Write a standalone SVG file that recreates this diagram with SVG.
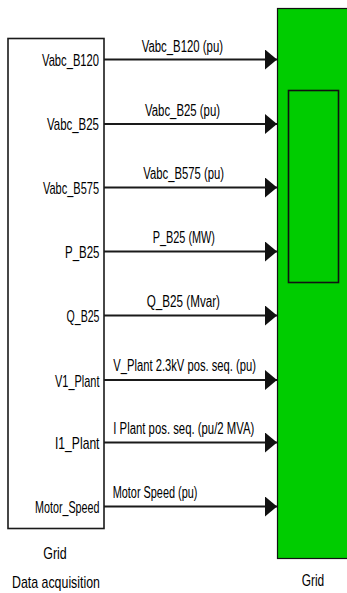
<svg xmlns="http://www.w3.org/2000/svg" width="347" height="593" viewBox="0 0 347 593">
<defs>
<style>
.t{font-family:"Liberation Sans",Arial,sans-serif;font-size:16px;fill:#000;}
.p{text-anchor:end;font-size:17px;}
.b{font-size:17px;}
.ln{stroke:#1a1a1a;stroke-width:2;fill:none;}
.blk{fill:#fff;stroke:#1a1a1a;stroke-width:1.6;}
.grn{fill:#00cc00;stroke:#111;stroke-width:1.2;}
.inner{fill:none;stroke:#111;stroke-width:1.6;}
</style>
<marker id="ah" markerWidth="12" markerHeight="20" refX="12" refY="10" orient="auto" markerUnits="userSpaceOnUse">
<path d="M0,0 L12,10 L0,20 Z" fill="#111"/>
</marker>
</defs>
<rect width="347" height="593" fill="#fff"/>

<g id="data-acquisition">
<rect class="blk" x="8" y="38.5" width="96" height="490"/>
<text class="t p" x="99" y="66" textLength="57" lengthAdjust="spacingAndGlyphs">Vabc_B120</text>
<text class="t p" x="99" y="130" textLength="52" lengthAdjust="spacingAndGlyphs">Vabc_B25</text>
<text class="t p" x="99" y="194" textLength="56" lengthAdjust="spacingAndGlyphs">Vabc_B575</text>
<text class="t p" x="99.5" y="258" textLength="34.5" lengthAdjust="spacingAndGlyphs">P_B25</text>
<text class="t p" x="99.5" y="322" textLength="33" lengthAdjust="spacingAndGlyphs">Q_B25</text>
<text class="t p" x="99.5" y="386.5" textLength="44.5" lengthAdjust="spacingAndGlyphs">V1_Plant</text>
<text class="t p" x="99.5" y="449" textLength="44.5" lengthAdjust="spacingAndGlyphs">I1_Plant</text>
<text class="t p" x="99.5" y="513" textLength="64.5" lengthAdjust="spacingAndGlyphs">Motor_Speed</text>
<text class="t b" x="55" y="559" text-anchor="middle" textLength="23.5" lengthAdjust="spacingAndGlyphs">Grid</text>
<text class="t b" x="56" y="588" text-anchor="middle" textLength="88" lengthAdjust="spacingAndGlyphs">Data acquisition</text>
</g>

<g id="grid">
<rect class="grn" x="277.5" y="8.5" width="72" height="550"/>
<rect class="inner" x="288.5" y="90.5" width="50" height="192"/>
<text class="t b" x="313" y="586" text-anchor="middle" textLength="22.5" lengthAdjust="spacingAndGlyphs">Grid</text>
</g>

<g id="connectors">
<line class="ln" x1="104" y1="59.5" x2="277" y2="59.5" marker-end="url(#ah)"/>
<line class="ln" x1="104" y1="124" x2="277" y2="124" marker-end="url(#ah)"/>
<line class="ln" x1="104" y1="187.5" x2="277" y2="187.5" marker-end="url(#ah)"/>
<line class="ln" x1="104" y1="251.5" x2="277" y2="251.5" marker-end="url(#ah)"/>
<line class="ln" x1="104" y1="315.5" x2="277" y2="315.5" marker-end="url(#ah)"/>
<line class="ln" x1="104" y1="380" x2="277" y2="380" marker-end="url(#ah)"/>
<line class="ln" x1="104" y1="442.5" x2="277" y2="442.5" marker-end="url(#ah)"/>
<line class="ln" x1="104" y1="506.5" x2="277" y2="506.5" marker-end="url(#ah)"/>
<text class="t" x="141.7" y="51.5" textLength="81.3" lengthAdjust="spacingAndGlyphs">Vabc_B120 (pu)</text>
<text class="t" x="145" y="115.5" textLength="75" lengthAdjust="spacingAndGlyphs">Vabc_B25 (pu)</text>
<text class="t" x="143.3" y="179" textLength="80.7" lengthAdjust="spacingAndGlyphs">Vabc_B575 (pu)</text>
<text class="t" x="152.7" y="243" textLength="62.3" lengthAdjust="spacingAndGlyphs">P_B25 (MW)</text>
<text class="t" x="146.7" y="307" textLength="73.3" lengthAdjust="spacingAndGlyphs">Q_B25 (Mvar)</text>
<text class="t" x="113.3" y="371" textLength="142.7" lengthAdjust="spacingAndGlyphs">V_Plant 2.3kV pos. seq. (pu)</text>
<text class="t" x="113.3" y="434" textLength="141" lengthAdjust="spacingAndGlyphs">I Plant pos. seq. (pu/2 MVA)</text>
<text class="t" x="112.7" y="498" textLength="84.7" lengthAdjust="spacingAndGlyphs">Motor Speed (pu)</text>
</g>
</svg>
